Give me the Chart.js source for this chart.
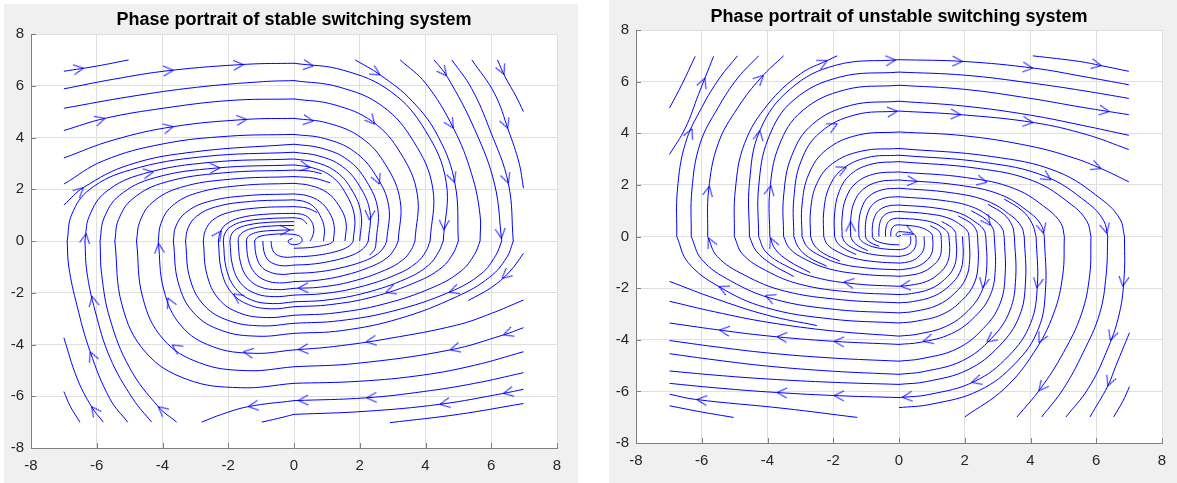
<!DOCTYPE html>
<html><head><meta charset="utf-8">
<script src="https://cdn.jsdelivr.net/npm/chart.js@4"></script>
<style>
body{margin:0;background:#fff;width:1177px;height:483px;overflow:hidden;position:relative}
.fig{position:absolute;background:#f0f0f0}
canvas{display:block}
</style></head><body>
<div class="fig" style="left:4px;top:4px;width:574px;height:479px"><canvas id="c1" width="574" height="479" style="width:574px;height:479px"></canvas></div>
<div class="fig" style="left:609px;top:0px;width:568px;height:483px"><canvas id="c2" width="568" height="483" style="width:568px;height:483px"></canvas></div>
<script>
// ---------- data ----------
const TICKS = [-8,-6,-4,-2,0,2,4,6,8];
const TICK_LABELS = ['-8','-6','-4','-2','0','2','4','6','8'];
const TITLES = ['Phase portrait of stable switching system','Phase portrait of unstable switching system'];

// stable system: streamlines per quadrant, points in flow direction
const stableUL = [
 [[-7,6.56],[-6.0,6.76],[-5.03,7.0]],
 [[-7,5.88],[-5.5,6.25],[-3.77,6.59],[-1.44,6.83],[0,6.87]],
 [[-7,5.13],[-4.99,5.58],[-2.96,5.94],[-0.93,6.16],[0,6.2]],
 [[-7,4.27],[-5.75,4.74],[-3.98,5.13],[-1.95,5.43],[0,5.49]],
 [[-7,3.21],[-5.5,3.9],[-3.67,4.42],[-1.44,4.7],[0,4.74]],
 [[-7,2.2],[-5.8,3.1],[-4,3.75],[-2,4.05],[0,4.12]],
 [[-7,1.39],[-6.4,2.07],[-5,2.95],[-3,3.45],[0,3.74]],
 [[-6.9,0],[-6.76,1.03],[-6.21,2.0],[-4.97,2.75],[-2.76,3.26],[0,3.43]],
 [[-6.36,0],[-6.23,0.95],[-5.72,1.9],[-4.58,2.6],[-2.54,3.04],[0,3.17]],
 [[-5.9,0],[-5.78,0.88],[-5.31,1.76],[-4.25,2.44],[-2.36,2.82],[0,2.94]],
 [[-5.45,0],[-5.34,0.82],[-4.9,1.64],[-3.92,2.27],[-2.18,2.63],[0,2.74]],
 [[-4.79,0],[-4.69,0.75],[-4.31,1.49],[-3.45,2.07],[-1.92,2.39],[0,2.49]],
 [[-4.13,0],[-4.05,0.67],[-3.72,1.34],[-2.97,1.85],[-1.65,2.14],[0,2.23]],
 [[-3.67,0],[-3.6,0.55],[-3.3,1.09],[-2.64,1.51],[-1.47,1.75],[0,1.82]],
 [[-3.3,0],[-3.23,0.48],[-2.97,0.95],[-2.38,1.32],[-1.32,1.53],[0,1.59]],
 [[-2.76,0],[-2.7,0.4],[-2.48,0.8],[-1.99,1.1],[-1.1,1.28],[0,1.33]],
 [[-2.3,0],[-2.25,0.32],[-2.07,0.64],[-1.66,0.89],[-0.92,1.03],[0,1.07]],
 [[-2.15,0],[-2.11,0.27],[-1.94,0.54],[-1.55,0.75],[-0.86,0.86],[0,0.9]],
 [[-1.95,0],[-1.91,0.23],[-1.76,0.45],[-1.4,0.62],[-0.78,0.72],[0,0.75]],
 [[-1.7,0],[-1.67,0.18],[-1.53,0.36],[-1.22,0.5],[-0.68,0.58],[0,0.6]],
 [[-1.45,0],[-1.42,0.13],[-1.3,0.26],[-1.04,0.36],[-0.58,0.41],[0,0.43]],
 [[-1.2,0],[-1.1,0.15],[-0.7,0.25],[-0.2,0.27],[0.15,0.2],[0.25,0.02],[0.12,-0.12],[-0.1,-0.12],[-0.18,0.0],[-0.05,0.1]]
];
const stableUR = [
 [[1.86,7.0],[2.62,6.42],[3.6,5.4],[4.4,4.0],[4.9,2.2],[5.0,0]],
 [[3.23,7.0],[4.0,6.1],[4.85,4.36],[5.4,2.6],[5.66,1.0],[5.66,0]],
 [[4.26,7.0],[4.66,6.35],[5.5,4.3],[6.1,2.2],[6.32,0]],
 [[4.8,7.0],[5.4,5.9],[5.96,4.29],[6.52,2.23],[6.67,0]],
 [[5.41,7.0],[6.1,5.7],[6.52,4.29],[6.85,3.0],[6.98,2.04]],
 [[6.19,7.0],[6.42,6.35],[6.75,5.6],[6.98,5.0]],
 [[0,6.87],[1.5,6.6],[2.95,5.77],[4.0,4.26],[4.63,2.27],[4.54,0]],
 [[0,6.2],[1.37,5.95],[2.69,5.21],[3.64,3.84],[4.22,2.05],[4.14,0]],
 [[0,5.49],[1.21,5.27],[2.39,4.61],[3.24,3.4],[3.75,1.81],[3.68,0]],
 [[0,4.74],[1.05,4.55],[2.06,3.98],[2.79,2.94],[3.23,1.56],[3.17,0]],
 [[0,4.12],[0.93,3.96],[1.83,3.46],[2.48,2.55],[2.88,1.36],[2.82,0]],
 [[0,3.74],[0.83,3.59],[1.63,3.14],[2.2,2.32],[2.55,1.23],[2.5,0]],
 [[0,3.43],[0.75,3.29],[1.47,2.88],[1.99,2.13],[2.31,1.13],[2.26,0]],
 [[0,3.17],[0.66,3.04],[1.3,2.66],[1.76,1.97],[2.04,1.05],[2.0,0]],
 [[0,2.94],[0.59,2.82],[1.17,2.47],[1.58,1.82],[1.84,0.97],[1.8,0]],
 [[0,2.74],[0.5,2.7],[0.84,2.6]],
 [[0,2.49],[0.6,2.43],[1.1,2.25]],
 [[0,2.23],[0.51,2.14],[1.01,1.87],[1.36,1.38],[1.58,0.74],[1.55,0]],
 [[0,1.82],[0.4,1.75],[0.78,1.53],[1.06,1.13],[1.22,0.6],[1.2,0]],
 [[0,1.59],[0.3,1.53],[0.59,1.34],[0.79,0.99],[0.92,0.52],[0.9,0]],
 [[0,1.33],[0.4,1.27],[0.7,1.1]],
 [[0,1.07],[0.3,1.01],[0.5,0.82],[0.6,0.5],[0.57,0.2],[0.49,0]],
 [[0,0.9],[0.25,0.84],[0.4,0.65]]
];
const stableLR = [
 [[6.98,-0.48],[6.55,-1.2],[6.0,-1.8],[5.3,-2.3]],
 [[6.98,-2.28],[6.0,-2.8],[4.95,-3.25],[2.92,-3.76],[1.2,-4.08],[0,-4.21]],
 [[6.98,-3.35],[6.37,-3.63],[4.75,-4.21],[1.9,-4.73],[0,-4.86]],
 [[6.98,-4.28],[5.5,-4.8],[3.93,-5.18],[2.0,-5.42],[0,-5.5]],
 [[6.98,-5.09],[5.5,-5.5],[3.93,-5.82],[2.21,-6.06],[0,-6.17]],
 [[6.98,-5.73],[6.37,-5.89],[4.44,-6.31],[2.2,-6.58],[0,-6.7]],
 [[6.98,-6.28],[5.0,-6.7],[2.92,-7.02]],
 [[6.67,0],[6.47,-0.64],[5.95,-1.4],[4.95,-2.15],[3.2,-3.0],[1.47,-3.46],[0,-3.57]],
 [[6.32,0],[6.13,-0.57],[5.69,-1.27],[4.74,-1.97],[3.03,-2.7],[1.39,-3.08],[0,-3.18]],
 [[5.66,0],[5.49,-0.52],[5.09,-1.15],[4.25,-1.78],[2.72,-2.44],[1.25,-2.78],[0,-2.87]],
 [[5.0,0],[4.85,-0.46],[4.5,-1.02],[3.75,-1.57],[2.4,-2.16],[1.1,-2.46],[0,-2.54]],
 [[4.54,0],[4.4,-0.42],[4.09,-0.94],[3.41,-1.46],[2.18,-2.0],[1.0,-2.28],[0,-2.35]],
 [[4.14,0],[4.02,-0.38],[3.73,-0.84],[3.11,-1.3],[1.99,-1.78],[0.91,-2.03],[0,-2.09]],
 [[3.68,0],[3.57,-0.33],[3.31,-0.73],[2.76,-1.13],[1.77,-1.56],[0.81,-1.78],[0,-1.83]],
 [[3.17,0],[3.07,-0.28],[2.85,-0.63],[2.38,-0.97],[1.52,-1.33],[0.7,-1.52],[0,-1.57]],
 [[2.82,0],[2.74,-0.23],[2.54,-0.5],[2.12,-0.78],[1.35,-1.06],[0.62,-1.21],[0,-1.25]],
 [[2.5,0],[2.46,-0.3],[2.3,-0.55]],
 [[2.26,0],[2.19,-0.17],[2.03,-0.37],[1.7,-0.58],[1.08,-0.79],[0.5,-0.9],[0,-0.93]],
 [[1.8,0],[1.75,-0.11],[1.62,-0.24],[1.35,-0.38],[0.86,-0.52],[0.4,-0.59],[0,-0.61]],
 [[1.2,0],[1.16,-0.05],[1.08,-0.11],[0.9,-0.17],[0.58,-0.24],[0.26,-0.27],[0,-0.28]]
];
const stableLL = [
 [[0,-6.7],[-0.5,-6.86],[-0.98,-7.0]],
 [[0,-6.17],[-1.39,-6.4],[-2.2,-6.7],[-2.81,-7.0]],
 [[-6.51,-7.0],[-6.8,-6.4],[-7.0,-5.82]],
 [[-5.8,-7.0],[-6.16,-6.4],[-6.6,-5.3],[-7.0,-3.74]],
 [[-5.06,-7.0],[-5.6,-6.1],[-6.2,-4.28],[-6.6,-2.5],[-6.85,-1.0],[-6.9,0]],
 [[-4.33,-7.0],[-4.9,-6.1],[-5.6,-4.5],[-6.05,-2.7],[-6.3,-1.2],[-6.36,0]],
 [[-3.57,-7.0],[-4.13,-6.4],[-5.0,-4.9],[-5.6,-3.0],[-5.85,-1.3],[-5.9,0]],
 [[0,-5.5],[-1.64,-5.67],[-3.27,-5.34],[-4.52,-4.29],[-5.23,-2.48],[-5.45,0]],
 [[0,-4.86],[-1.44,-5.01],[-2.87,-4.71],[-3.98,-3.79],[-4.6,-2.19],[-4.79,0]],
 [[0,-4.21],[-1.24,-4.34],[-2.48,-4.08],[-3.43,-3.28],[-3.96,-1.89],[-4.13,0]],
 [[0,-3.57],[-1.1,-3.68],[-2.2,-3.46],[-3.05,-2.78],[-3.52,-1.61],[-3.67,0]],
 [[0,-3.18],[-0.99,-3.28],[-1.98,-3.08],[-2.74,-2.48],[-3.17,-1.43],[-3.3,0]],
 [[0,-2.87],[-0.83,-2.96],[-1.66,-2.78],[-2.29,-2.24],[-2.65,-1.29],[-2.76,0]],
 [[0,-2.54],[-0.69,-2.62],[-1.38,-2.46],[-1.91,-1.98],[-2.21,-1.14],[-2.3,0]],
 [[0,-2.35],[-0.65,-2.42],[-1.29,-2.28],[-1.78,-1.83],[-2.06,-1.06],[-2.15,0]],
 [[0,-2.09],[-0.59,-2.15],[-1.17,-2.03],[-1.62,-1.63],[-1.87,-0.94],[-1.95,0]],
 [[0,-1.83],[-0.51,-1.88],[-1.02,-1.78],[-1.41,-1.43],[-1.63,-0.82],[-1.7,0]],
 [[0,-1.57],[-0.44,-1.62],[-0.87,-1.52],[-1.2,-1.22],[-1.39,-0.71],[-1.45,0]],
 [[0,-1.25],[-0.36,-1.29],[-0.72,-1.21],[-1.0,-0.98],[-1.15,-0.56],[-1.2,0]],
 [[0,-0.93],[-0.29,-0.96],[-0.57,-0.9],[-0.79,-0.73],[-0.91,-0.42],[-0.95,0]],
 [[0,-0.61],[-0.21,-0.63],[-0.42,-0.59],[-0.58,-0.48],[-0.67,-0.27],[-0.7,0]]
];
const stableArrows = [
 [-6.41,6.74],[-3.67,6.61],[-1.54,6.83],[-5.75,4.74],[-3.67,4.42],[-1.44,4.7],[-6.41,2.07],[-4.28,2.68],[-2.25,2.74],[-6.36,0.3],[-2.25,0.43],[-0.12,0.43],
 [0.59,6.78],[2.62,6.42],[4.66,6.4],[6.42,6.45],[0.59,4.68],[2.26,4.29],[4.85,4.36],[6.52,4.36],[0.49,2.87],[2.77,2.29],[4.8,2.23],[6.52,2.23],[2.23,0.81],[4.54,0.43],[6.32,0.1],
 [0.13,-1.83],[2.82,-2.09],[4.75,-2.09],[6.37,-1.51],[0.13,-4.21],[2.21,-4.02],[4.75,-4.21],[6.37,-3.63],[0.13,-6.17],[2.21,-6.08],[4.44,-6.31],[6.37,-5.89],
 [-6.16,-6.4],[-4.13,-6.4],[-1.39,-6.4],[-6.2,-4.28],[-3.87,-4.34],[-1.54,-4.28],[-6.2,-2.15],[-3.87,-2.22],[-1.9,-2.15],[-4.13,-0.09]
];

// unstable system
const unstableUL = [
 [[-6.98,4.98],[-6.6,5.9],[-6.2,6.98]],
 [[-6.98,3.18],[-6.5,4.2],[-6.1,5.5],[-5.64,6.98]],
 [[-6.76,0],[-6.74,1.8],[-6.5,3.6],[-6.0,5.0],[-5.45,6.15],[-4.91,7.0]],
 [[-6.32,0],[-6.3,1.8],[-6.05,3.6],[-5.5,5.0],[-4.9,6.15],[-4.27,7.0]],
 [[-5.82,0],[-5.79,1.8],[-5.5,3.6],[-4.9,5.0],[-4.2,6.15],[-3.51,7.0]],
 [[-5.01,0],[-4.98,1.8],[-4.7,3.6],[-4.0,5.1],[-3.0,6.3],[-2.18,6.82],[-1.88,7.0]],
 [[-4.55,0],[-4.55,2.06],[-4.23,4.11],[-3.3,5.72],[-1.91,6.64],[0,6.85]],
 [[-4.27,0],[-4.27,1.91],[-3.97,3.82],[-3.2,5.29],[-1.79,6.18],[0,6.37]],
 [[-3.93,0],[-3.93,1.76],[-3.65,3.52],[-2.95,4.86],[-1.65,5.68],[0,5.86]],
 [[-3.51,0],[-3.51,1.57],[-3.26,3.14],[-2.63,4.35],[-1.47,5.08],[0,5.24]],
 [[-3.2,0],[-3.2,1.46],[-2.98,2.92],[-2.4,4.03],[-1.34,4.71],[0,4.86]],
 [[-2.95,0],[-2.95,1.22],[-2.74,2.43],[-2.21,3.36],[-1.24,3.93],[0,4.05]],
 [[-2.69,0],[-2.69,1.02],[-2.5,2.05],[-2.02,2.83],[-1.13,3.31],[0,3.41]],
 [[-2.29,0],[-2.29,0.95],[-2.13,1.89],[-1.72,2.61],[-0.96,3.06],[0,3.15]],
 [[-1.96,0],[-1.96,0.87],[-1.82,1.74],[-1.47,2.41],[-0.82,2.81],[0,2.9]],
 [[-1.73,0],[-1.73,0.75],[-1.61,1.5],[-1.3,2.08],[-0.73,2.43],[0,2.5]],
 [[-1.47,0],[-1.47,0.66],[-1.37,1.31],[-1.1,1.82],[-0.62,2.12],[0,2.19]],
 [[-1.22,0],[-1.22,0.56],[-1.13,1.12],[-0.92,1.55],[-0.51,1.81],[0,1.87]],
 [[-1.02,0],[-1.02,0.46],[-0.95,0.92],[-0.77,1.28],[-0.43,1.49],[0,1.54]],
 [[-0.81,0],[-0.81,0.37],[-0.75,0.73],[-0.61,1.01],[-0.34,1.18],[0,1.22]],
 [[-0.61,0],[-0.61,0.29],[-0.57,0.58],[-0.46,0.81],[-0.26,0.94],[0,0.97]],
 [[-0.41,0],[-0.41,0.21],[-0.38,0.43],[-0.31,0.59],[-0.17,0.69],[0,0.71]],
 [[-0.25,0],[-0.25,0.13],[-0.23,0.27],[-0.19,0.37],[-0.1,0.44],[0,0.45]],
 [[0.06,0.04],[-0.05,0.0],[-0.09,0.08],[-0.05,0.15],[0,0.19]]
];
const unstableUR = [
 [[4.07,7.0],[5.5,6.78],[6.15,6.62],[6.99,6.4]],
 [[0,6.85],[1.98,6.78],[4.12,6.52],[5.6,6.2],[6.99,5.88]],
 [[0,6.37],[2.0,6.25],[4.0,5.95],[5.6,5.65],[6.99,5.35]],
 [[0,5.86],[2.0,5.7],[4.0,5.35],[5.6,5.0],[6.99,4.72]],
 [[0,5.24],[2.0,5.05],[4.0,4.7],[5.6,4.3],[6.99,3.92]],
 [[0,4.86],[1.88,4.72],[4.12,4.41],[5.7,3.95],[6.99,3.37]],
 [[0,4.05],[2.0,3.9],[4.0,3.5],[5.3,3.05],[6.15,2.63],[6.99,2.12]],
 [[0,3.41],[2.81,3.1],[4.8,2.52],[6.17,1.43],[6.72,0.68],[6.86,0]],
 [[0,3.15],[2.6,2.87],[4.45,2.33],[5.72,1.32],[6.22,0.63],[6.35,0]],
 [[0,2.9],[2.39,2.64],[4.09,2.15],[5.26,1.22],[5.72,0.58],[5.84,0]],
 [[0,2.5],[2.06,2.28],[3.52,1.85],[4.53,1.05],[4.93,0.5],[5.03,0]],
 [[0,2.19],[1.81,1.99],[3.09,1.62],[3.98,0.92],[4.33,0.44],[4.42,0]],
 [[0,1.87],[1.56,1.7],[2.67,1.38],[3.43,0.79],[3.73,0.37],[3.81,0]],
 [[0,1.54],[1.31,1.4],[2.24,1.14],[2.88,0.65],[3.14,0.31],[3.2,0]],
 [[0,1.22],[1.08,1.11],[1.85,0.9],[2.38,0.51],[2.59,0.24],[2.64,0]],
 [[0,0.97],[0.87,0.88],[1.49,0.72],[1.92,0.41],[2.09,0.19],[2.13,0]],
 [[0,0.71],[0.62,0.65],[1.06,0.53],[1.37,0.3],[1.49,0.14],[1.52,0]],
 [[0,0.45],[0.42,0.41],[0.71,0.33],[0.92,0.19],[1.0,0.09],[1.02,0]],
 [[0,0.19],[0.21,0.17],[0.36,0.14],[0.46,0.08],[0.5,0.04],[0.51,0]],
 [[3.2,1.45],[3.75,1.0],[4.05,0.5],[4.17,0]],
 [[2.7,1.25],[3.2,0.85],[3.45,0.4],[3.51,0]],
 [[2.2,1.0],[2.65,0.65],[2.86,0.3],[2.9,0]],
 [[1.8,0.8],[2.2,0.5],[2.36,0.22],[2.39,0]],
 [[1.3,0.58],[1.6,0.35],[1.72,0.15],[1.73,0]],
 [[0.95,0.42],[1.18,0.25],[1.27,0.1],[1.28,0]]
];
const unstableLR = [
 [[7.01,-3.73],[6.6,-5.0],[6.35,-5.79],[5.81,-6.99]],
 [[7.01,-5.82],[6.8,-6.4],[6.53,-6.99]],
 [[6.86,0],[6.85,-1.5],[6.7,-3.0],[6.3,-4.5],[5.75,-5.9],[5.08,-6.99]],
 [[6.35,0],[6.3,-1.5],[6.1,-3.0],[5.6,-4.5],[5.0,-5.9],[4.34,-6.99]],
 [[5.84,0],[5.8,-1.5],[5.55,-3.0],[5.0,-4.5],[4.3,-5.9],[3.59,-6.99]],
 [[5.03,0],[4.98,-1.5],[4.7,-3.0],[4.1,-4.5],[3.2,-5.9],[2.0,-6.99]],
 [[4.42,0],[4.46,-1.99],[4.24,-3.58],[3.54,-4.91],[2.43,-5.97],[0.97,-6.5],[0,-6.63]],
 [[4.17,0],[4.21,-1.87],[4.0,-3.37],[3.34,-4.62],[2.29,-5.62],[0.92,-6.12],[0,-6.24]],
 [[3.81,0],[3.85,-1.72],[3.66,-3.09],[3.05,-4.24],[2.1,-5.16],[0.84,-5.62],[0,-5.73]],
 [[3.51,0],[3.55,-1.6],[3.37,-2.88],[2.81,-3.95],[1.93,-4.81],[0.77,-5.23],[0,-5.34]],
 [[3.2,0],[3.23,-1.45],[3.07,-2.61],[2.56,-3.57],[1.76,-4.35],[0.7,-4.73],[0,-4.83]],
 [[2.9,0],[2.93,-1.25],[2.78,-2.26],[2.32,-3.09],[1.6,-3.76],[0.64,-4.1],[0,-4.18]],
 [[2.64,0],[2.67,-1.16],[2.53,-2.08],[2.11,-2.86],[1.45,-3.47],[0.58,-3.78],[0,-3.86]],
 [[2.39,0],[2.41,-1.0],[2.29,-1.81],[1.91,-2.48],[1.31,-3.02],[0.53,-3.28],[0,-3.35]],
 [[2.13,0],[2.15,-0.89],[2.04,-1.6],[1.7,-2.19],[1.17,-2.66],[0.47,-2.9],[0,-2.96]],
 [[1.93,0],[1.95,-0.77],[1.85,-1.39],[1.54,-1.9],[1.06,-2.31],[0.42,-2.52],[0,-2.57]],
 [[1.73,0],[1.75,-0.68],[1.66,-1.22],[1.38,-1.67],[0.95,-2.03],[0.38,-2.21],[0,-2.25]],
 [[1.52,0],[1.54,-0.58],[1.46,-1.04],[1.22,-1.43],[0.84,-1.74],[0.33,-1.89],[0,-1.93]],
 [[1.28,0],[1.29,-0.46],[1.23,-0.83],[1.02,-1.14],[0.7,-1.39],[0.28,-1.51],[0,-1.54]],
 [[1.02,0],[1.03,-0.39],[0.98,-0.7],[0.82,-0.95],[0.56,-1.16],[0.22,-1.26],[0,-1.29]],
 [[0.76,0],[0.77,-0.31],[0.73,-0.56],[0.61,-0.76],[0.42,-0.93],[0.17,-1.01],[0,-1.03]],
 [[0.51,0],[0.52,-0.23],[0.49,-0.42],[0.41,-0.57],[0.28,-0.69],[0.11,-0.75],[0,-0.77]],
 [[0.35,0],[0.36,-0.16],[0.34,-0.29],[0.28,-0.39],[0.19,-0.46],[0.08,-0.5],[0,-0.51]]
];
const unstableLL = [
 [[-5.03,-7.01],[-6.0,-6.8],[-6.98,-6.56]],
 [[-1.27,-7.01],[-3.5,-6.66],[-6.2,-6.31],[-6.98,-6.11]],
 [[0,-6.24],[-2,-6.16],[-4,-6.02],[-5.6,-5.86],[-6.98,-5.69]],
 [[0,-5.73],[-2,-5.65],[-4,-5.52],[-5.6,-5.37],[-6.98,-5.21]],
 [[0,-5.34],[-2,-5.22],[-4,-5.02],[-5.6,-4.78],[-6.98,-4.54]],
 [[0,-4.83],[-2,-4.71],[-4,-4.51],[-5.6,-4.27],[-6.98,-4.03]],
 [[0,-4.18],[-2,-4.06],[-4,-3.85],[-5.6,-3.6],[-6.98,-3.35]],
 [[0,-3.86],[-2,-3.66],[-4,-3.32],[-5.6,-2.92],[-6.98,-2.51]],
 [[-2.5,-3.45],[-4,-3.05],[-5.6,-2.4],[-6.98,-1.74]],
 [[0,-3.35],[-2.03,-3.2],[-4.06,-2.75],[-5.48,-1.94],[-6.42,-1.0],[-6.76,0]],
 [[0,-2.96],[-1.9,-2.83],[-3.79,-2.43],[-5.12,-1.72],[-6.0,-0.89],[-6.32,0]],
 [[0,-2.57],[-1.75,-2.45],[-3.49,-2.11],[-4.71,-1.49],[-5.53,-0.77],[-5.82,0]],
 [[0,-2.25],[-1.5,-2.15],[-3.01,-1.85],[-4.06,-1.31],[-4.76,-0.68],[-5.01,0]],
 [[0,-1.93],[-1.28,-1.84],[-2.56,-1.58],[-3.46,-1.12],[-4.06,-0.58],[-4.27,0]],
 [[0,-1.54],[-1.05,-1.47],[-2.11,-1.26],[-2.84,-0.89],[-3.33,-0.46],[-3.51,0]],
 [[0,-1.29],[-0.89,-1.23],[-1.77,-1.06],[-2.39,-0.75],[-2.8,-0.39],[-2.95,0]],
 [[0,-1.03],[-0.69,-0.98],[-1.37,-0.84],[-1.85,-0.6],[-2.18,-0.31],[-2.29,0]],
 [[0,-0.77],[-0.52,-0.74],[-1.04,-0.63],[-1.4,-0.45],[-1.64,-0.23],[-1.73,0]],
 [[0,-0.51],[-0.37,-0.49],[-0.73,-0.42],[-0.99,-0.3],[-1.16,-0.15],[-1.22,0]],
 [[0,-0.32],[-0.24,-0.31],[-0.49,-0.26],[-0.66,-0.19],[-0.77,-0.1],[-0.81,0]],
 [[-3.2,-1.55],[-3.9,-1.05],[-4.35,-0.55],[-4.55,0]],
 [[-2.7,-1.4],[-3.35,-0.95],[-3.76,-0.5],[-3.93,0]],
 [[-2.2,-1.15],[-2.75,-0.8],[-3.06,-0.42],[-3.2,0]],
 [[-1.8,-0.95],[-2.3,-0.65],[-2.58,-0.33],[-2.69,0]],
 [[-1.3,-0.7],[-1.65,-0.48],[-1.87,-0.25],[-1.96,0]],
 [[-0.95,-0.55],[-1.23,-0.37],[-1.4,-0.18],[-1.47,0]],
 [[-0.6,-0.38],[-0.85,-0.25],[-0.98,-0.12],[-1.02,0]]
];
const unstableArrows = [
 [-6.1,6.24],[-6.2,4.12],[-5.69,1.93],[-5.82,-0.06],[-4.12,6.24],[-4.27,4.12],[-3.71,1.93],[-3.93,-0.06],[-2.18,6.82],[-1.78,4.12],[-1.58,2.64],[-1.42,0.58],[-0.1,6.85],[-0.05,4.86],
 [1.93,6.78],[4.07,6.53],[6.15,6.6],[6.4,4.9],[1.88,4.72],[4.07,4.41],[6.15,2.64],[0.56,2.19],[2.69,2.19],[4.62,2.19],[2.79,0.45],[0.46,0.13],[4.42,0.13],[6.35,0.13],
 [0.05,-1.93],[0.76,-4.18],[0.1,-6.24],[2.59,-2.0],[2.69,-4.12],[2.24,-5.79],[4.22,-2.0],[4.27,-4.12],[4.32,-6.05],[6.76,-1.93],[6.35,-3.99],[6.35,-5.79],
 [-1.68,-1.78],[-5.49,-1.96],[-4.01,-2.12],[-5.49,-3.93],[-3.71,-3.86],[-1.98,-4.18],[-3.71,-5.98],[-1.98,-6.18],[-6.15,-6.33]
];

// ---------- rendering ----------
const FONT = "'Liberation Sans', Arial, Helvetica, sans-serif";
const LINE = '#0000ff';

const arrowImg = document.createElement('canvas');
arrowImg.width = 26; arrowImg.height = 26;
(function(){
  const c = arrowImg.getContext('2d');
  c.strokeStyle = LINE; c.lineWidth = 1;
  c.beginPath(); c.moveTo(3, 8); c.lineTo(13, 13); c.lineTo(3, 18); c.stroke();
})();

// place each arrow on the nearest streamline segment and take its direction
function snapArrows(lines, arrows) {
  const sy = 0.787;
  return arrows.map(([ax, ay]) => {
    let best = null;
    for (const ln of lines) {
      for (let i = 0; i < ln.length - 1; i++) {
        const [x1, y1] = ln[i], [x2, y2] = ln[i + 1];
        const dx = x2 - x1, dy = (y2 - y1) * sy;
        const L2 = dx * dx + dy * dy;
        if (!L2) continue;
        let t = ((ax - x1) * dx + (ay - y1) * sy * dy) / L2;
        t = Math.max(0, Math.min(1, t));
        const px = x1 + (x2 - x1) * t, py = y1 + (y2 - y1) * t;
        const d = (px - ax) ** 2 + ((py - ay) * sy) ** 2;
        if (!best || d < best.d) best = { d, x: px, y: py, dx: x2 - x1, dy: y2 - y1 };
      }
    }
    return best;
  });
}

function axisCfg(which, size) {
  return {
    type: 'linear', min: -8, max: 8,
    afterBuildTicks: s => { s.ticks = TICKS.map(v => ({ value: v })); },
    ticks: { color: '#262626', font: { family: FONT, size: 15 }, padding: which === 'x' ? 9 : 7, autoSkip: false, maxRotation: 0,
      callback: (v, i) => TICK_LABELS[i] },
    grid: { color: '#dfdfdf', drawTicks: false, lineWidth: 1 },
    border: { display: true, color: '#808080', width: 1 },
    afterFit: s => { if (which === 'x') s.height = size; else s.width = size; }
  };
}

const bgPlugin = {
  id: 'plotbg',
  beforeDraw(chart) {
    const a = chart.chartArea, c = chart.ctx;
    c.save(); c.fillStyle = '#ffffff'; c.fillRect(a.left, a.top, a.right - a.left, a.bottom - a.top); c.restore();
  }
};
const tickPlugin = {
  id: 'inticks',
  afterDraw(chart) {
    const a = chart.chartArea, c = chart.ctx, sx = chart.scales.x, sy = chart.scales.y;
    c.save(); c.strokeStyle = '#808080'; c.lineWidth = 1; c.beginPath();
    TICKS.forEach(v => {
      const x = Math.round(sx.getPixelForValue(v)) + 0.5;
      c.moveTo(x, a.bottom); c.lineTo(x, a.bottom - 5);
      const y = Math.round(sy.getPixelForValue(v)) + 0.5;
      c.moveTo(a.left, y); c.lineTo(a.left + 5, y);
    });
    c.stroke(); c.restore();
  }
};

function makeChart(id, title, lines, arrows, rightPad, xAxisH, titlePad) {
  const datasets = lines.map(pts => ({
    data: pts.map(p => ({ x: p[0], y: p[1] })),
    showLine: true, borderColor: LINE, borderWidth: 1, pointRadius: 0, pointHoverRadius: 0,
    tension: 0.4, fill: false
  }));
  datasets.push({
    data: snapArrows(lines, arrows),
    showLine: false, pointStyle: arrowImg, pointRadius: 6, borderColor: LINE, backgroundColor: LINE,
    pointRotation: ctx => {
      const r = ctx.raw; if (!r) return 0;
      const s = ctx.chart.scales;
      const kx = s.x.getPixelForValue(1) - s.x.getPixelForValue(0);
      const ky = s.y.getPixelForValue(0) - s.y.getPixelForValue(1);
      return Math.atan2(-r.dy * ky, r.dx * kx) * 180 / Math.PI;
    }
  });
  return new Chart(document.getElementById(id), {
    type: 'scatter',
    data: { datasets },
    options: {
      responsive: false, animation: false, events: [], devicePixelRatio: 1,
      layout: { padding: { left: 0, top: 0, right: rightPad, bottom: 0 }, autoPadding: false },
      plugins: {
        legend: { display: false }, tooltip: { enabled: false },
        title: { display: true, text: title, fullSize: false, color: '#000000',
          font: { family: FONT, size: 18, weight: 'bold', lineHeight: 1.2 }, padding: titlePad }
      },
      scales: { x: axisCfg('x', xAxisH), y: axisCfg('y', 27) }
    },
    plugins: [bgPlugin, tickPlugin]
  });
}

makeChart('c1', TITLES[0], [...stableUL, ...stableUR, ...stableLR, ...stableLL], stableArrows, 21, 35, { top: 5, bottom: 3.4 });
makeChart('c2', TITLES[1], [...unstableUL, ...unstableUR, ...unstableLR, ...unstableLL], unstableArrows, 15, 40, { top: 6, bottom: 2.4 });
</script>
</body></html>
